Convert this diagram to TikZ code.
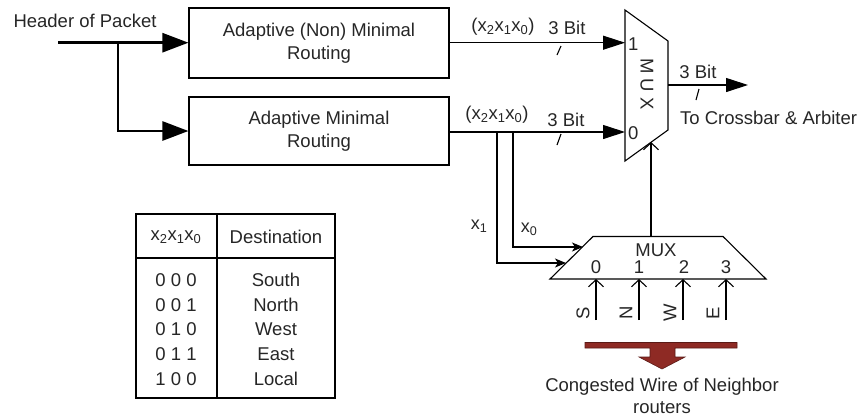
\documentclass[tikz,border=0pt]{standalone}
\usepackage{fontspec}
\setmainfont{Liberation Sans}
\usetikzlibrary{arrows.meta,calc}
\definecolor{wirered}{HTML}{8E2A24}
\definecolor{wireedge}{HTML}{5A1A16}
\begin{document}
\begin{tikzpicture}[x=1pt,y=-1pt,
  txt/.style={font=\fontsize{18.5}{21}\selectfont, inner sep=0pt, text=black!85},
  stxt/.style={font=\fontsize{18}{20}\selectfont, inner sep=0pt, text=black!85},
  block/.style={draw, line width=1.1pt, minimum width=260pt, align=center, inner sep=0pt,
    font=\fontsize{18.5}{21}\selectfont, text=black!85},
  thickwire/.style={line width=2.6pt, -{Triangle[length=26pt,width=19pt]}},
  wire/.style={line width=1.1pt},
  buswire/.style={wire, -{Triangle[length=22pt,width=14pt]}},
  selwire/.style={wire, -{Stealth[length=11pt,width=9pt,inset=3pt]}},
  openwire/.style={wire, -{Straight Barb[length=7pt,width=15pt]}},
  tick/.style={line width=1.1pt},
  muxline/.style={line width=1.1pt, line join=miter},
]
\useasboundingbox (0,0) rectangle (860,416);

% ---------- input ----------
\node[txt] (hdr) at (85,21) {Header of Packet};
\coordinate (in) at (58,42.7);
\coordinate (br) at (118,42.7);

\node[block, minimum height=70pt] (b1) at (319,43) {Adaptive (Non) Minimal\\[2pt]Routing};
\node[block, minimum height=68pt] (b2) at (319,131) {Adaptive Minimal\\[2pt]Routing};

\draw[line width=2.6pt] (in) -- (br);
\draw[thickwire] (in) -- (b1.west |- in);
\draw[thickwire, line cap=rect] (br) |- (b2.west);

% ---------- big mux ----------
\coordinate (m1) at (625,10);
\coordinate (m2) at (668,41);
\coordinate (m3) at (668,130);
\coordinate (m4) at (625,161);
\draw[muxline] (m1) -- (m2) -- (m3) -- (m4) -- cycle;
\coordinate (min1) at (625,42.7);
\coordinate (min0) at (625,132);
\coordinate (mout) at (668,85);
\coordinate (msel) at (651,142);
\node[txt, rotate=-90] (mlabel) at (647,84) {M U X};
\node[txt, anchor=west] (p1) at (628,44) {1};
\node[txt, anchor=west] (p0) at (628,133) {0};

% top bus
\draw[buswire] (b1.east |- min1) -- (min1);
\node[txt] (lab1) at (503,27) {(x\textsubscript{2}x\textsubscript{1}x\textsubscript{0})};
\node[txt] (bit1) at (567,28) {3 Bit};
\draw[tick] (557,55) -- (561,46);

% bottom bus
\draw[buswire] (b2.east |- min0) -- (min0);
\node[txt] (lab2) at (497,115) {(x\textsubscript{2}x\textsubscript{1}x\textsubscript{0})};
\node[txt] (bit2) at (566,120) {3 Bit};
\draw[tick] (557,145) -- (561,134);

% output
\coordinate (outend) at (748,85);
\draw[buswire] (mout) -- (outend);
\node[txt] (bit3) at (698,72) {3 Bit};
\draw[tick] (696,100) -- (699,89);
\node[txt, anchor=west] (dest) at (680,118) {To Crossbar \& Arbiter};

% ---------- small mux ----------
\coordinate (s1) at (550,279);
\coordinate (s2) at (593,236.5);
\coordinate (s3) at (723,236.5);
\coordinate (s4) at (766,279);
\draw[muxline] (s1) -- (s2) -- (s3) -- (s4) -- cycle;
\node[txt] (slabel) at (656,250) {MUX};
\node[txt] (n0) at (596,267) {0};
\node[txt] (n1) at (639,267) {1};
\node[txt] (n2) at (684,267) {2};
\node[txt] (n3) at (726,267) {3};

% select bits
\coordinate (x1top) at (497,132);
\coordinate (x0top) at (513,132);
\coordinate (x1in) at (566,263);
\coordinate (x0in) at (583,247);
\draw[selwire] (x1top) |- (x1in);
\draw[selwire] (x0top) |- (x0in);
\node[stxt] (x1lab) at (479,226) {x\textsubscript{1}};
\node[stxt] (x0lab) at (529,229) {x\textsubscript{0}};

% small mux output to big mux select
\coordinate (stop) at (651,236.5);
\draw[openwire] (stop) -- (msel);

% neighbour inputs
\foreach \nm/\lx/\ltr in {S/596/S, N/639/N, W/683/W, E/726/E}{
  \coordinate (\nm bot) at (\lx,320);
  \draw[openwire] (\nm bot) -- (\lx,279);
  \node[txt, rotate=90] (\nm lab) at (\lx-13,313) {\ltr};
}

% congested wire arrow
\draw[fill=wirered, draw=wireedge, line width=0.6pt]
  (585,342.5) -- (737,342.5) -- (737,348) -- (675,348) -- (675,357) -- (685,357)
  -- (662,369) -- (639,357) -- (650,357) -- (650,348) -- (585,348) -- cycle;
\node[txt, align=center] (cong) at (662,396) {Congested Wire of Neighbor\\[1pt]routers};

% ---------- table ----------
\draw[line width=1.1pt] (136,214) rectangle (335,398);
\draw[line width=1.1pt] (217,214) -- (217,398);
\draw[line width=1.1pt] (136,258) -- (335,258);
\node[txt] (th1) at (176,237) {x\textsubscript{2}x\textsubscript{1}x\textsubscript{0}};
\node[txt] (th2) at (276,237) {Destination};
\foreach \y/\c/\d in {280/0 0 0/South, 305/0 0 1/North, 329/0 1 0/West, 354/0 1 1/East, 379/1 0 0/Local}{
  \node[txt] at (176,\y) {\c};
  \node[txt] at (276,\y) {\d};
}
\end{tikzpicture}
\end{document}
